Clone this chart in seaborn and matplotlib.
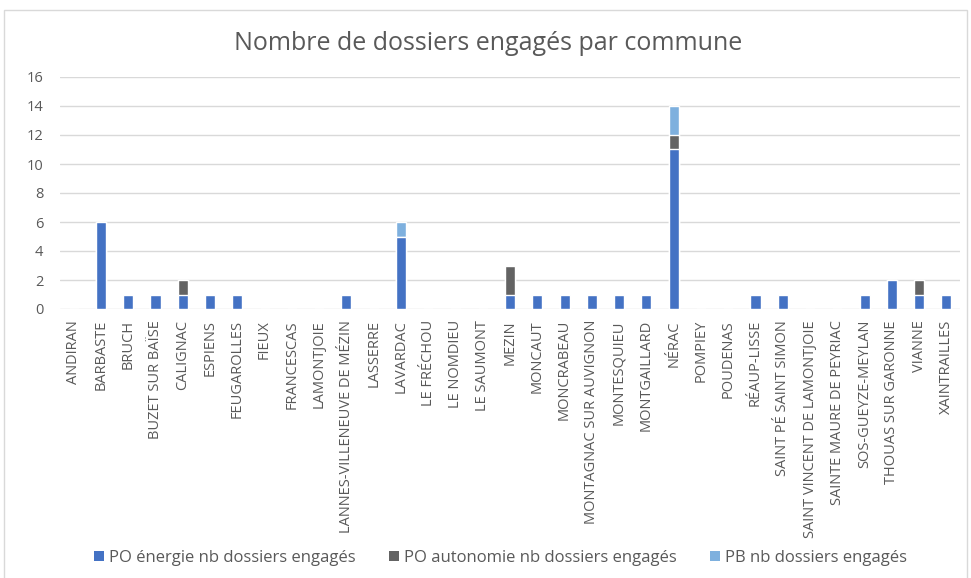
import matplotlib
matplotlib.use("Agg")
import matplotlib.pyplot as plt
from matplotlib.patches import Patch, Rectangle
import seaborn as sns
import pandas as pd
import numpy as np

communes = ["ANDIRAN", "BARBASTE", "BRUCH", "BUZET SUR BAÏSE", "CALIGNAC", "ESPIENS",
            "FEUGAROLLES", "FIEUX", "FRANCESCAS", "LAMONTJOIE", "LANNES-VILLENEUVE DE MÉZIN",
            "LASSERRE", "LAVARDAC", "LE FRÉCHOU", "LE NOMDIEU", "LE SAUMONT", "MEZIN",
            "MONCAUT", "MONCRABEAU", "MONTAGNAC SUR AUVIGNON", "MONTESQUIEU", "MONTGAILLARD",
            "NÉRAC", "POMPIEY", "POUDENAS", "RÉAUP-LISSE", "SAINT PÉ SAINT SIMON",
            "SAINT VINCENT DE LAMONTJOIE", "SAINTE MAURE DE PEYRIAC", "SOS-GUEYZE-MEYLAN",
            "THOUAS SUR GARONNE", "VIANNE", "XAINTRAILLES"]
po_energie = [0, 6, 1, 1, 1, 1, 1, 0, 0, 0, 1, 0, 5, 0, 0, 0, 1, 1, 1, 1, 1, 1, 11,
              0, 0, 1, 1, 0, 0, 1, 2, 1, 1]
po_autonomie = [0, 0, 0, 0, 1, 0, 0, 0, 0, 0, 0, 0, 0, 0, 0, 0, 2, 0, 0, 0, 0, 0, 1,
                0, 0, 0, 0, 0, 0, 0, 0, 1, 0]
pb = [0, 0, 0, 0, 0, 0, 0, 0, 0, 0, 0, 0, 1, 0, 0, 0, 0, 0, 0, 0, 0, 0, 2,
      0, 0, 0, 0, 0, 0, 0, 0, 0, 0]
series_names = ["PO énergie nb dossiers engagés", "PO autonomie nb dossiers engagés",
                "PB nb dossiers engagés"]
colors = ["#4472C4", "#636363", "#7EB0DE"]

df = pd.DataFrame({"commune": communes, "e": po_energie, "a": po_autonomie, "b": pb})
df["ea"] = df["e"] + df["a"]
df["eab"] = df["ea"] + df["b"]

sns.set_theme(style="white")
fam = ["Open Sans", "DejaVu Sans"]
plt.rcParams["font.family"] = fam

fig = plt.figure(figsize=(9.71, 5.78), dpi=100)
W, H = 971, 578
ax = fig.add_axes([60 / W, 1 - 309 / H, 900 / W, 232 / H])

bw = 0.37
sns.barplot(data=df, x="commune", y="eab", color=colors[2], width=bw, ax=ax,
            saturation=1, order=communes, zorder=3)
sns.barplot(data=df, x="commune", y="ea", color=colors[1], width=bw, ax=ax,
            saturation=1, order=communes, zorder=4)
sns.barplot(data=df, x="commune", y="e", color=colors[0], width=bw, ax=ax,
            saturation=1, order=communes, zorder=5)

ax.set_ylim(0, 16)
ax.set_yticks(range(0, 17, 2))
ax.set_xlim(-0.5, len(communes) - 0.5)
ax.yaxis.grid(True, color="#D9D9D9", linewidth=1.0, zorder=0)
ax.set_axisbelow(True)
for s in ax.spines.values():
    s.set_visible(False)
ax.set_xlabel("")
ax.set_ylabel("")
ax.tick_params(axis="both", length=0, colors="#595959")
ax.tick_params(axis="y", labelsize=10.5, pad=12)
ax.tick_params(axis="x", labelsize=10.5, pad=8)
for lbl in ax.get_xticklabels():
    lbl.set_rotation(90)
    lbl.set_ha("center")
    lbl.set_va("top")
    lbl.set_color("#595959")

fig.text(0.503, 1 - 43 / H, "Nombre de dossiers engagés par commune", ha="center", va="center",
         fontsize=18, color="#595959")

handles = [Patch(facecolor=c, edgecolor="none") for c in colors]
fig.legend(handles, series_names, loc="center", bbox_to_anchor=(0.515, 1 - 558 / H),
           ncol=3, frameon=False, fontsize=12, handlelength=0.6, handleheight=0.6,
           handletextpad=0.3, columnspacing=2.0, labelcolor="#595959")

fig.patches.append(Rectangle((4 / W, -0.01), 963 / W, 1 - 10 / H + 0.01,
                             transform=fig.transFigure, fill=False,
                             edgecolor="#D9D9D9", linewidth=1.0))

fig.savefig("out.png", dpi=100)
